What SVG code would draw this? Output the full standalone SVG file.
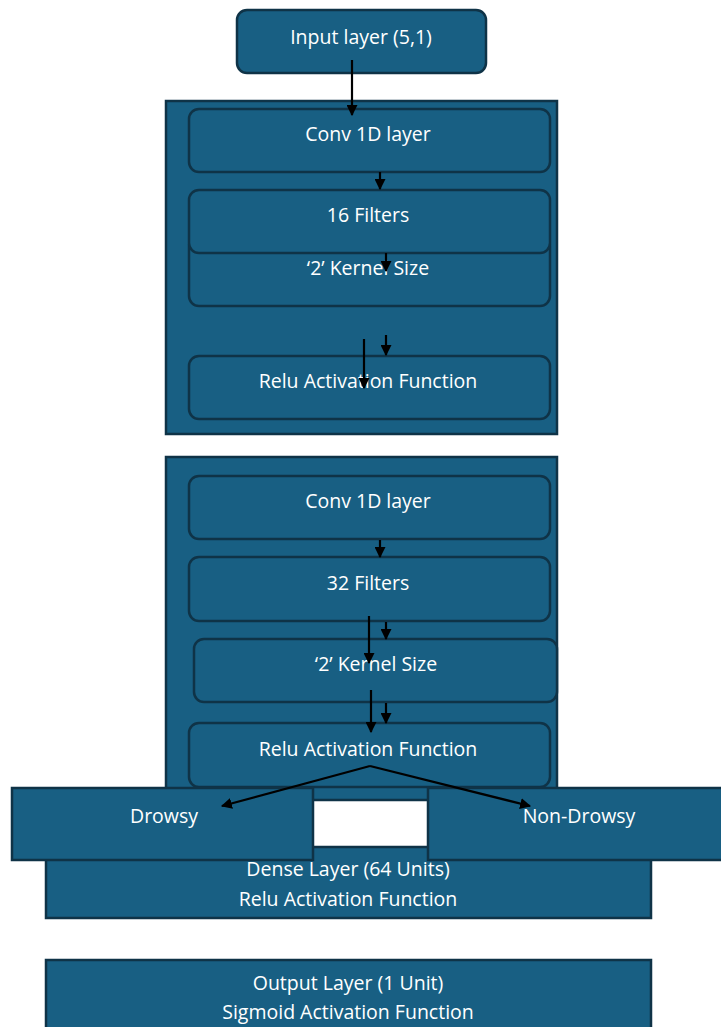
<svg xmlns="http://www.w3.org/2000/svg" width="721" height="1027" viewBox="0 0 721 1027">
<defs>
<style>
.box{fill:#185f83;stroke:#0f3347;stroke-width:2.5}
.t{fill:#ffffff;font-family:"Open Sans","Liberation Sans",Arial,sans-serif;font-size:19.5px;text-anchor:middle;dominant-baseline:central}
.c{fill:none;stroke:#000;stroke-width:2.2}
</style>
<marker id="ah" viewBox="0 0 10 10" refX="9" refY="5" markerWidth="5" markerHeight="5" orient="auto-start-reverse" markerUnits="strokeWidth">
<path d="M0,0 L10,5 L0,10 z" fill="#000"/>
</marker>
</defs>
<g id="output-layer"><rect class="box" x="46" y="960" width="605" height="80"/><text class="t" x="348" y="982">Output Layer (1 Unit)</text><text class="t" x="348" y="1011">Sigmoid Activation Function</text></g>
<g id="dense-layer"><rect class="box" x="46" y="847" width="605" height="71"/><text class="t" x="348" y="868">Dense Layer (64 Units)</text><text class="t" x="348" y="898">Relu Activation Function</text></g>
<g id="block1"><rect class="box" x="166" y="101" width="391" height="333"/></g>
<g id="conv1"><rect class="box" x="189" y="109" width="361" height="63" rx="10"/><text class="t" x="368" y="133">Conv 1D layer</text></g>
<g id="kernel1"><rect class="box" x="189" y="236" width="361" height="70" rx="10"/><text class="t" x="368" y="267">‘2’ Kernel Size</text></g>
<g id="filters16"><rect class="box" x="189" y="190" width="361" height="63" rx="10"/><text class="t" x="368" y="214">16 Filters</text></g>
<g id="relu1"><rect class="box" x="189" y="356" width="361" height="63" rx="10"/><text class="t" x="368" y="380">Relu Activation Function</text></g>
<g id="input-layer"><rect class="box" x="237" y="10" width="249" height="63" rx="10"/><text class="t" x="361" y="36">Input layer (5,1)</text></g>
<g id="block2"><rect class="box" x="166" y="457" width="391" height="343"/></g>
<g id="conv2"><rect class="box" x="189" y="476" width="361" height="63" rx="10"/><text class="t" x="368" y="500">Conv 1D layer</text></g>
<g id="filters32"><rect class="box" x="189" y="557" width="361" height="64" rx="10"/><text class="t" x="368" y="582">32 Filters</text></g>
<g id="kernel2"><rect class="box" x="194" y="639" width="363" height="63" rx="10"/><text class="t" x="376" y="663">‘2’ Kernel Size</text></g>
<g id="relu2"><rect class="box" x="189" y="723" width="361" height="64" rx="10"/><text class="t" x="368" y="748">Relu Activation Function</text></g>
<g id="drowsy"><rect class="box" x="12" y="788" width="301" height="72"/><text class="t" x="164" y="815">Drowsy</text></g>
<g id="non-drowsy"><rect class="box" x="428" y="788" width="295" height="72"/><text class="t" x="579" y="815">Non-Drowsy</text></g>
<g id="connectors">
<line class="c" x1="352" y1="60" x2="352" y2="115" marker-end="url(#ah)"/>
<line class="c" x1="380" y1="172" x2="380" y2="189" marker-end="url(#ah)"/>
<line class="c" x1="386" y1="253" x2="386" y2="271" marker-end="url(#ah)"/>
<line class="c" x1="386" y1="335" x2="386" y2="355" marker-end="url(#ah)"/>
<line class="c" x1="364" y1="339" x2="364" y2="388" marker-end="url(#ah)"/>
<line class="c" x1="380" y1="540" x2="380" y2="557" marker-end="url(#ah)"/>
<line class="c" x1="369" y1="616" x2="369" y2="663" marker-end="url(#ah)"/>
<line class="c" x1="386" y1="622" x2="386" y2="639" marker-end="url(#ah)"/>
<line class="c" x1="371" y1="690" x2="371" y2="732" marker-end="url(#ah)"/>
<line class="c" x1="386" y1="703" x2="386" y2="723" marker-end="url(#ah)"/>
<line class="c" x1="370" y1="766" x2="222" y2="806" marker-end="url(#ah)"/>
<line class="c" x1="370" y1="766" x2="530" y2="806" marker-end="url(#ah)"/>
</g>
</svg>
